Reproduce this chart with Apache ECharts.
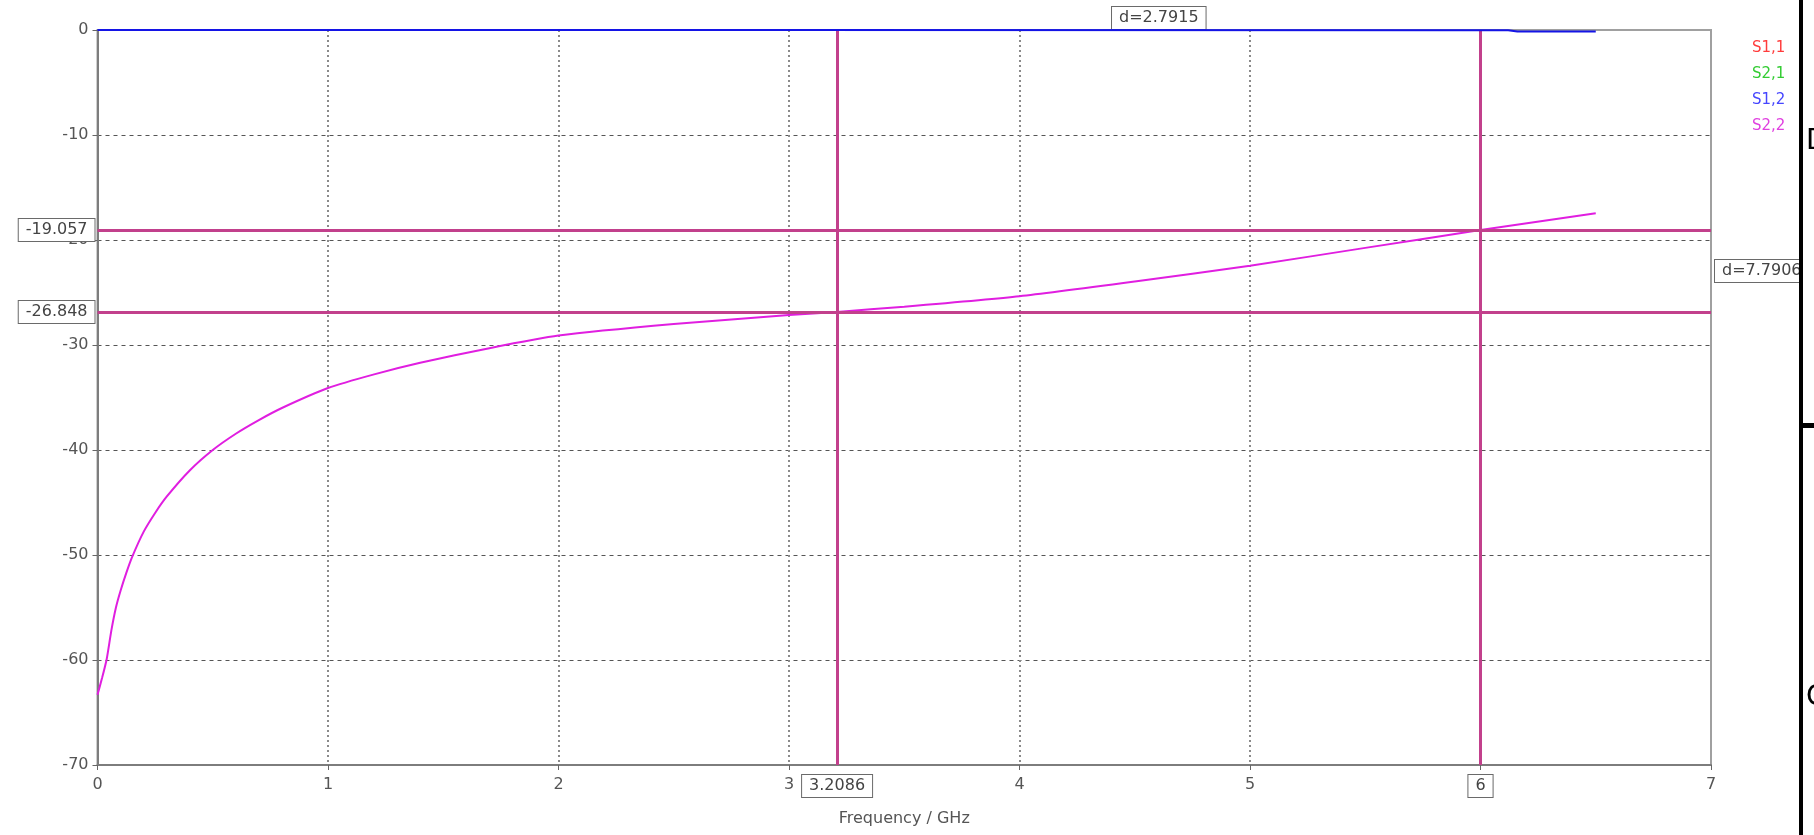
<!DOCTYPE html>
<html>
<head>
<meta charset="utf-8">
<script src="https://cdn.jsdelivr.net/npm/echarts/dist/echarts.min.js"></script>
<style>
html,body{margin:0;padding:0;background:#fff;}
#c{width:1814px;height:835px;}
</style>
</head>
<body>
<div id="c"></div>
<script>
// ---- data ----
const xTicks = [0, 1, 2, 3, 4, 5, 6, 7];
const yTicks = [0, -10, -20, -30, -40, -50, -60, -70];
const seriesNames = ['S1,1', 'S2,1', 'S1,2', 'S2,2'];
const seriesColors = ['#ff3c3c', '#33cc33', '#4646ff', '#e040e0'];

const s11Freq = [];
const s11Val = [];
const s21Freq = [];
const s21Val = [];
const s12Freq = [0, 3.0, 6.12, 6.16, 6.5];
const s12Val = [0, 0, -0.02, -0.15, -0.15];
const s22Freq = [0, 0.02, 0.04, 0.06, 0.08, 0.1, 0.125, 0.15, 0.2, 0.25, 0.3, 0.4, 0.5, 0.6, 0.7, 0.8, 1.0, 1.2, 1.4, 1.7, 2.0, 2.5, 3.0, 3.2086, 3.5, 4.0, 4.5, 5.0, 5.5, 6.0, 6.5];
const s22Val  = [-63.3, -61.7, -59.9, -57.2, -55.0, -53.4, -51.7, -50.2, -47.8, -46.0, -44.45, -41.95, -40.0, -38.45, -37.15, -36.0, -34.1, -32.8, -31.7, -30.3, -29.1, -28.0, -27.15, -26.848, -26.35, -25.35, -23.95, -22.45, -20.75, -19.057, -17.46];

const markerFreq = [3.2086, 6];
const markerFreqLabels = ['3.2086', '6'];
const markerLevel = [-19.057, -26.848];
const markerLevelLabels = ['-19.057', '-26.848'];
const deltaFreqLabel = 'd=2.7915';
const deltaLevelLabel = 'd=7.7906';

// ---- chart ----
const xMin = xTicks[0], xMax = xTicks[xTicks.length - 1];
const yMax = yTicks[0], yMin = yTicks[yTicks.length - 1];
const font = 'DejaVu Sans, Verdana, sans-serif';
const pair = (xs, ys) => xs.map((x, i) => [x, ys[i]]);
const boxLabel = {
  show: true, backgroundColor: '#fff', borderColor: '#6a6a6a', borderWidth: 1,
  padding: [3, 7], color: '#444', fontSize: 16, fontFamily: font
};

const chart = echarts.init(document.getElementById('c'));
const option = {
  animation: false,
  backgroundColor: '#fff',
  grid: { left: 97.5, right: 103, top: 30, bottom: 70, show: true, borderColor: '#a0a0a0', borderWidth: 2 },
  legend: {
    orient: 'vertical', left: 1742, top: 36, icon: 'none', itemWidth: 0, itemGap: 11, selectedMode: false,
    data: seriesNames.map((n, i) => ({ name: n, textStyle: { color: seriesColors[i] } })),
    textStyle: { fontSize: 15, fontFamily: font }
  },
  xAxis: {
    type: 'value', min: xMin, max: xMax, interval: 1,
    axisLine: { onZero: false, lineStyle: { color: '#7d7d7d', width: 2 } },
    axisTick: { show: true, length: 5, lineStyle: { color: '#666' } },
    axisLabel: { color: '#555', fontSize: 16, fontFamily: font, margin: 12 },
    splitLine: { show: true, showMinLine: false, showMaxLine: false, lineStyle: { type: [2, 3], color: '#8a8a8a', width: 2 } },
    name: 'Frequency / GHz', nameLocation: 'middle', nameGap: 46,
    nameTextStyle: { color: '#555', fontSize: 16, fontFamily: font }
  },
  yAxis: {
    type: 'value', min: yMin, max: yMax, interval: 10,
    axisLine: { show: true, onZero: false, lineStyle: { color: '#7d7d7d', width: 2 } },
    axisTick: { show: true, length: 5, lineStyle: { color: '#666' } },
    axisLabel: { color: '#555', fontSize: 16, fontFamily: font, margin: 9 },
    splitLine: { show: true, showMinLine: false, showMaxLine: false, lineStyle: { type: [4, 4], color: '#555', width: 1 } }
  },
  series: [
    { name: seriesNames[0], type: 'line', data: pair(s11Freq, s11Val), showSymbol: false, itemStyle: { color: seriesColors[0] } },
    { name: seriesNames[1], type: 'line', data: pair(s21Freq, s21Val), showSymbol: false, itemStyle: { color: seriesColors[1] } },
    { name: seriesNames[2], type: 'line', data: pair(s12Freq, s12Val), showSymbol: false, clip: false,
      itemStyle: { color: seriesColors[2] }, lineStyle: { color: '#1414e6', width: 2 }, z: 5 },
    { name: seriesNames[3], type: 'line', data: pair(s22Freq, s22Val), showSymbol: false,
      smooth: 0.2,
      itemStyle: { color: seriesColors[3] }, lineStyle: { color: '#e01ee0', width: 2 }, z: 4,
      markLine: {
        silent: true, symbol: ['none', 'none'], label: { show: false },
        lineStyle: { color: '#c2408c', width: 3, type: 'solid' },
        data: [
          ...markerFreq.map(f => ({ xAxis: f })),
          ...markerLevel.map(v => ({ yAxis: v }))
        ]
      },
      markPoint: {
        silent: true, symbol: 'rect', symbolSize: 0,
        data: [
          ...markerFreq.map((f, i) => ({ coord: [f, yMin], label: { ...boxLabel, position: 'bottom', distance: 10, formatter: markerFreqLabels[i] } })),
          ...markerLevel.map((v, i) => ({ coord: [xMin, v], label: { ...boxLabel, position: 'left', distance: 3, formatter: markerLevelLabels[i] } })),
          { coord: [(markerFreq[0] + markerFreq[1]) / 2, yMax], label: { ...boxLabel, position: 'top', distance: 1, formatter: deltaFreqLabel } },
          { coord: [xMax, (markerLevel[0] + markerLevel[1]) / 2], label: { ...boxLabel, position: 'right', distance: 4, formatter: deltaLevelLabel } }
        ]
      }
    }
  ],
  graphic: [
    { type: 'rect', left: 1803, top: 0, z: 99, shape: { width: 11, height: 835 }, style: { fill: '#fff' } },
    { type: 'rect', left: 1799, top: 0, z: 100, shape: { width: 4, height: 835 }, style: { fill: '#000' } },
    { type: 'rect', left: 1799, top: 423, z: 100, shape: { width: 15, height: 5 }, style: { fill: '#000' } },
    { type: 'text', left: 1806, top: 128, z: 101, style: { text: 'D', fontSize: 28, fill: '#000', fontFamily: 'DejaVu Sans' } },
    { type: 'text', left: 1806, top: 684, z: 101, style: { text: 'C', fontSize: 28, fill: '#000', fontFamily: 'DejaVu Sans' } }
  ]
};
chart.setOption(option);
</script>
</body>
</html>
